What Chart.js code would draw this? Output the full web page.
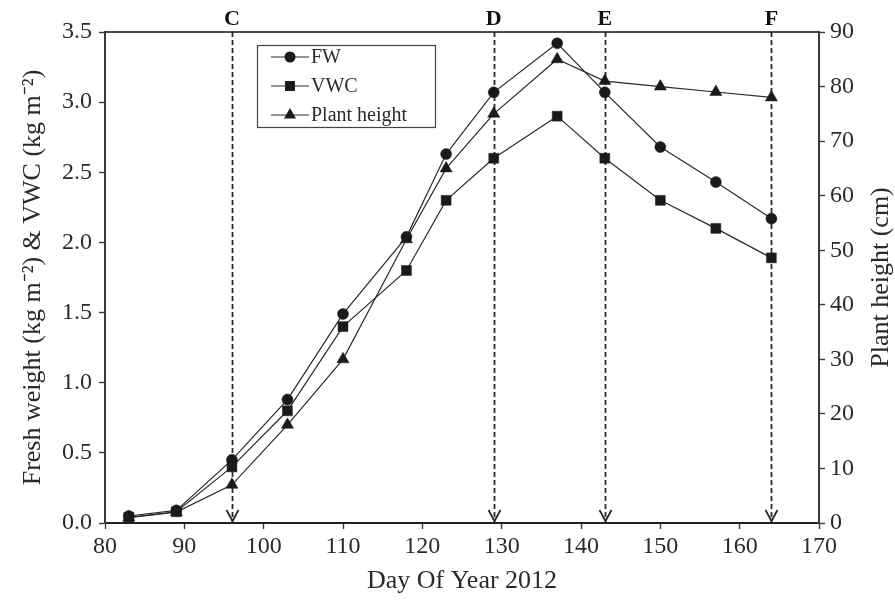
<!DOCTYPE html>
<html>
<head>
<meta charset="utf-8">
<script src="https://cdn.jsdelivr.net/npm/chart.js@4"></script>
<style>
  html, body { margin: 0; padding: 0; background: #fff; }
  canvas { display: block; }
</style>
</head>
<body>
<canvas id="c" width="895" height="600"></canvas>
<script>
// ---- data ----
const days = [83, 89, 96, 103, 110, 118, 123, 129, 137, 143, 150, 157, 164];
const fw = [0.05, 0.09, 0.45, 0.88, 1.49, 2.04, 2.63, 3.07, 3.42, 3.07, 2.68, 2.43, 2.17];
const vwc = [0.04, 0.08, 0.40, 0.80, 1.40, 1.80, 2.30, 2.60, 2.90, 2.60, 2.30, 2.10, 1.89];
const plantHeight = [1, 2, 7, 18, 30, 52, 65, 75, 85, 81, 80, 79, 78];
const markerDays = [96, 129, 143, 164];
const markerLabels = ['C', 'D', 'E', 'F'];
const seriesNames = ['FW', 'VWC', 'Plant height'];

const SERIF = '"Liberation Serif", "Times New Roman", serif';
const INK = '#2a2a2a';
const AXIS = '#3a3a3a';

function pts(xs, ys) { return xs.map((x, i) => ({ x: x, y: ys[i] })); }

const styles = [
  { pointStyle: 'circle', radius: 5.5 },
  { pointStyle: 'rect', radius: 7 },
  { pointStyle: 'triangle', radius: 7 }
];

function drawMarker(ctx, style, x, y, r) {
  ctx.beginPath();
  if (style === 'circle') {
    ctx.arc(x, y, r, 0, Math.PI * 2);
  } else if (style === 'rect') {
    const s = Math.SQRT1_2 * r;
    ctx.rect(x - s, y - s, 2 * s, 2 * s);
  } else {
    ctx.moveTo(x, y - r);
    ctx.lineTo(x + r * 0.866, y + r * 0.5);
    ctx.lineTo(x - r * 0.866, y + r * 0.5);
    ctx.closePath();
  }
  ctx.fill();
}

const overlay = {
  id: 'overlay',
  beforeDatasetsDraw(chart) {
    const { ctx, chartArea } = chart;
    const xs = chart.scales.x;
    ctx.save();
    ctx.strokeStyle = INK;
    ctx.lineWidth = 1.8;
    markerDays.forEach((d) => {
      const px = Math.round(xs.getPixelForValue(d)) + 0.5;
      ctx.setLineDash([5, 3]);
      ctx.beginPath();
      ctx.moveTo(px, chartArea.top);
      ctx.lineTo(px, chartArea.bottom - 1);
      ctx.stroke();
      ctx.setLineDash([]);
      ctx.beginPath();
      ctx.moveTo(px - 6, chartArea.bottom - 13);
      ctx.lineTo(px, chartArea.bottom - 2);
      ctx.lineTo(px + 6, chartArea.bottom - 13);
      ctx.stroke();
    });
    ctx.restore();
  },
  afterDraw(chart) {
    const { ctx, chartArea } = chart;
    const xs = chart.scales.x;
    ctx.save();
    // top border
    ctx.strokeStyle = '#111';
    ctx.lineWidth = 1.6;
    ctx.beginPath();
    ctx.moveTo(chartArea.left, chartArea.top);
    ctx.lineTo(chartArea.right, chartArea.top);
    ctx.stroke();
    // marker labels
    ctx.fillStyle = '#111';
    ctx.font = 'bold 22px ' + SERIF;
    ctx.textAlign = 'center';
    ctx.textBaseline = 'alphabetic';
    markerDays.forEach((d, i) => {
      ctx.fillText(markerLabels[i], xs.getPixelForValue(d), chartArea.top - 7);
    });
    // right axis title
    ctx.save();
    ctx.translate(881, (chartArea.top + chartArea.bottom) / 2);
    ctx.rotate(-Math.PI / 2);
    ctx.font = '26px ' + SERIF;
    ctx.fillStyle = INK;
    ctx.textAlign = 'center';
    ctx.textBaseline = 'middle';
    ctx.fillText('Plant height (cm)', 0, 0);
    ctx.restore();
    // legend
    const bx = chartArea.left + 152, by = chartArea.top + 13, bw = 178, bh = 82;
    ctx.fillStyle = '#fff';
    ctx.fillRect(bx, by, bw, bh);
    ctx.strokeStyle = '#444';
    ctx.lineWidth = 1.2;
    ctx.strokeRect(bx + 0.5, by + 0.5, bw, bh);
    ctx.font = '20px ' + SERIF;
    ctx.textAlign = 'left';
    ctx.textBaseline = 'middle';
    seriesNames.forEach((name, i) => {
      const y = by + 12 + i * 29;
      ctx.strokeStyle = INK;
      ctx.lineWidth = 1.2;
      ctx.beginPath();
      ctx.moveTo(bx + 14, y);
      ctx.lineTo(bx + 52, y);
      ctx.stroke();
      ctx.fillStyle = '#1a1a1a';
      drawMarker(ctx, styles[i].pointStyle, bx + 33, y, styles[i].radius);
      ctx.fillStyle = INK;
      ctx.fillText(name, bx + 54, y + 1);
    });
    ctx.restore();
  }
};

function ds(label, data, idx, axis) {
  return {
    label: label,
    data: data,
    yAxisID: axis,
    borderColor: INK,
    borderWidth: 1.2,
    backgroundColor: '#1a1a1a',
    pointBackgroundColor: '#1a1a1a',
    pointBorderColor: '#1a1a1a',
    pointBorderWidth: 0.5,
    pointStyle: styles[idx].pointStyle,
    pointRadius: styles[idx].radius,
    tension: 0,
    fill: false,
    clip: false
  };
}

new Chart(document.getElementById('c'), {
  type: 'line',
  data: {
    datasets: [
      ds(seriesNames[0], pts(days, fw), 0, 'y'),
      ds(seriesNames[1], pts(days, vwc), 1, 'y'),
      ds(seriesNames[2], pts(days, plantHeight), 2, 'y1')
    ]
  },
  options: {
    responsive: false,
    animation: false,
    devicePixelRatio: 1,
    layout: { padding: { top: 32, left: 0, right: 0, bottom: 0 } },
    plugins: { legend: { display: false }, tooltip: { enabled: false } },
    scales: {
      x: {
        type: 'linear',
        min: 80, max: 170,
        afterFit(s) { s.height = 77; },
        ticks: { stepSize: 10, color: INK, font: { family: SERIF, size: 24 }, padding: 3, maxRotation: 0 },
        grid: { drawOnChartArea: false, tickLength: 6, color: AXIS, tickWidth: 1.4 },
        border: { color: '#222', width: 2 },
        title: { display: true, text: 'Day Of Year 2012', color: INK, font: { family: SERIF, size: 26 }, padding: { top: 0, bottom: 3 } }
      },
      y: {
        position: 'left',
        min: 0, max: 3.5,
        afterFit(s) { s.width = 105; },
        ticks: { stepSize: 0.5, color: INK, font: { family: SERIF, size: 24 }, padding: 7, callback: (v) => v.toFixed(1) },
        grid: { drawOnChartArea: false, tickLength: 6, color: AXIS, tickWidth: 1.4 },
        border: { color: AXIS, width: 2 },
        title: { display: true, text: 'Fresh weight (kg m\u207B\u00B2) & VWC (kg m\u207B\u00B2)', color: INK, font: { family: SERIF, size: 26 }, padding: { top: 18, bottom: 0 } }
      },
      y1: {
        position: 'right',
        min: 0, max: 90,
        afterFit(s) { s.width = 76; },
        ticks: { stepSize: 10, color: INK, font: { family: SERIF, size: 24 }, padding: 5 },
        grid: { drawOnChartArea: false, tickLength: 6, color: AXIS, tickWidth: 1.4 },
        border: { color: AXIS, width: 2 }
      }
    }
  },
  plugins: [overlay]
});
</script>
</body>
</html>
